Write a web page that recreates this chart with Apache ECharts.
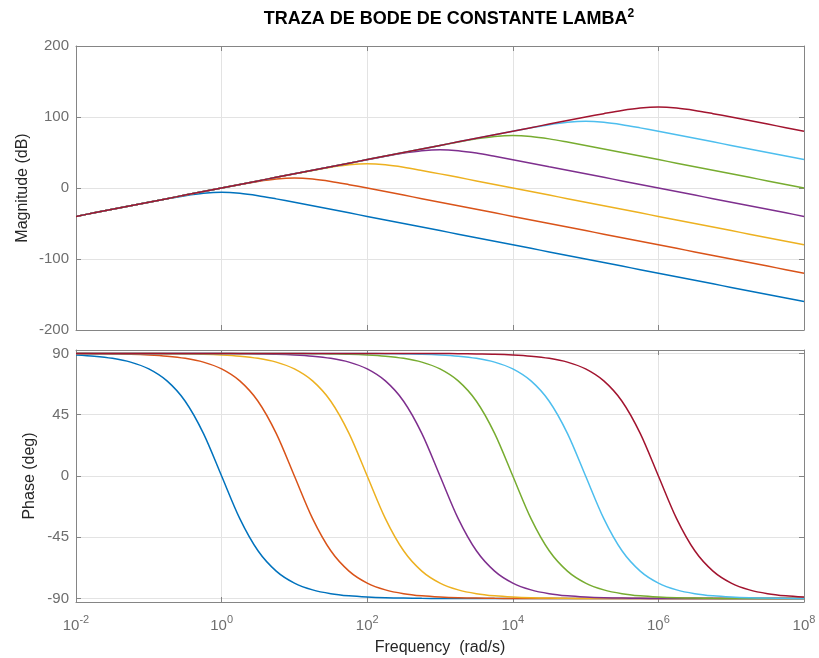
<!DOCTYPE html>
<html>
<head>
<meta charset="utf-8">
<script src="https://cdn.jsdelivr.net/npm/echarts@6/dist/echarts.min.js"></script>
<style>
  html, body { margin: 0; padding: 0; background: #fff; }
  #main { width: 819px; height: 658px; }
</style>
</head>
<body>
<div id="main"></div>
<script>
// frecuencia en decadas (log10 de rad/s)
var freqExp = [-2,-1.75,-1.5,-1.25,-1,-0.75,-0.5,-0.25,0,0.25,0.5,0.75,1,1.25,1.5,1.75,2,2.25,2.5,2.75,3,3.25,3.5,3.75,4,4.25,4.5,4.75,5,5.25,5.5,5.75,6,6.25,6.5,6.75,7,7.25,7.5,7.75,8];

// magnitud (dB) para lambda = 1, 10, ... 1e6
var magL0 = [-40,-35,-30,-25,-20.1,-15.3,-10.8,-7.4,-6.0,-7.4,-10.8,-15.3,-20.1,-25,-30,-35,-40,-45,-50,-55,-60,-65,-70,-75,-80,-85,-90,-95,-100,-105,-110,-115,-120,-125,-130,-135,-140,-145,-150,-155,-160];
var magL1 = [-40,-35,-30,-25,-20,-15,-10,-5,-0.1,4.7,9.2,12.6,14.0,12.6,9.2,4.7,-0.1,-5,-10,-15,-20,-25,-30,-35,-40,-45,-50,-55,-60,-65,-70,-75,-80,-85,-90,-95,-100,-105,-110,-115,-120];
var magL2 = [-40,-35,-30,-25,-20,-15,-10,-5,0,5,10,15,19.9,24.7,29.2,32.6,34.0,32.6,29.2,24.7,19.9,15,10,5,0,-5,-10,-15,-20,-25,-30,-35,-40,-45,-50,-55,-60,-65,-70,-75,-80];
var magL3 = [-40,-35,-30,-25,-20,-15,-10,-5,0,5,10,15,20,25,30,35,39.9,44.7,49.2,52.6,54.0,52.6,49.2,44.7,39.9,35,30,25,20,15,10,5,0,-5,-10,-15,-20,-25,-30,-35,-40];
var magL4 = [-40,-35,-30,-25,-20,-15,-10,-5,0,5,10,15,20,25,30,35,40,45,50,55,59.9,64.7,69.2,72.6,74.0,72.6,69.2,64.7,59.9,55,50,45,40,35,30,25,20,15,10,5,0];
var magL5 = [-40,-35,-30,-25,-20,-15,-10,-5,0,5,10,15,20,25,30,35,40,45,50,55,60,65,70,75,79.9,84.7,89.2,92.6,94.0,92.6,89.2,84.7,79.9,75,70,65,60,55,50,45,40];
var magL6 = [-40,-35,-30,-25,-20,-15,-10,-5,0,5,10,15,20,25,30,35,40,45,50,55,60,65,70,75,80,85,90,95,99.9,104.7,109.2,112.6,114.0,112.6,109.2,104.7,99.9,95,90,85,80];

// fase (grados)
var phL0 = [88.9,88.0,86.4,83.6,78.6,69.8,54.9,31.3,0,-31.3,-54.9,-69.8,-78.6,-83.6,-86.4,-88.0,-88.9,-89.4,-89.6,-89.8,-89.9,-89.9,-90,-90,-90,-90,-90,-90,-90,-90,-90,-90,-90,-90,-90,-90,-90,-90,-90,-90,-90];
var phL1 = [89.9,89.8,89.6,89.4,88.9,88.0,86.4,83.6,78.6,69.8,54.9,31.3,0,-31.3,-54.9,-69.8,-78.6,-83.6,-86.4,-88.0,-88.9,-89.4,-89.6,-89.8,-89.9,-89.9,-90,-90,-90,-90,-90,-90,-90,-90,-90,-90,-90,-90,-90,-90,-90];
var phL2 = [90,90,90,89.9,89.9,89.8,89.6,89.4,88.9,88.0,86.4,83.6,78.6,69.8,54.9,31.3,0,-31.3,-54.9,-69.8,-78.6,-83.6,-86.4,-88.0,-88.9,-89.4,-89.6,-89.8,-89.9,-89.9,-90,-90,-90,-90,-90,-90,-90,-90,-90,-90,-90];
var phL3 = [90,90,90,90,90,90,90,89.9,89.9,89.8,89.6,89.4,88.9,88.0,86.4,83.6,78.6,69.8,54.9,31.3,0,-31.3,-54.9,-69.8,-78.6,-83.6,-86.4,-88.0,-88.9,-89.4,-89.6,-89.8,-89.9,-89.9,-90,-90,-90,-90,-90,-90,-90];
var phL4 = [90,90,90,90,90,90,90,90,90,90,90,89.9,89.9,89.8,89.6,89.4,88.9,88.0,86.4,83.6,78.6,69.8,54.9,31.3,0,-31.3,-54.9,-69.8,-78.6,-83.6,-86.4,-88.0,-88.9,-89.4,-89.6,-89.8,-89.9,-89.9,-90,-90,-90];
var phL5 = [90,90,90,90,90,90,90,90,90,90,90,90,90,90,90,89.9,89.9,89.8,89.6,89.4,88.9,88.0,86.4,83.6,78.6,69.8,54.9,31.3,0,-31.3,-54.9,-69.8,-78.6,-83.6,-86.4,-88.0,-88.9,-89.4,-89.6,-89.8,-89.9];
var phL6 = [90,90,90,90,90,90,90,90,90,90,90,90,90,90,90,90,90,90,90,89.9,89.9,89.8,89.6,89.4,88.9,88.0,86.4,83.6,78.6,69.8,54.9,31.3,0,-31.3,-54.9,-69.8,-78.6,-83.6,-86.4,-88.0,-88.9];

var magTicks = [-200, -100, 0, 100, 200];
var phaseTicks = [-90, -45, 0, 45, 90];
var colors = ['#0072BD','#D95319','#EDB120','#7E2F8E','#77AC30','#4DBEEE','#A2142F'];

var FONT = "'Liberation Sans', Arial, sans-serif";
var BOX = '#858585';
var LABEL = '#6e6e6e';
var GRIDC = '#e3e3e3';

function pares(ys){
    var out = [];
    for (var i = 0; i < freqExp.length; i++) out.push([freqExp[i], ys[i]]);
    return out;
}

function ejeX(grid, pos, labels){
    return {
        type: 'value', gridIndex: grid, position: pos,
        min: -2, max: 8, interval: 2,
        axisLine: { show: true, onZero: false, lineStyle: { color: BOX, width: 1 } },
        axisTick: { show: true, inside: true, length: 5, lineStyle: { color: BOX } },
        splitLine: { show: pos === 'bottom', lineStyle: { color: GRIDC, width: 1 } },
        axisLabel: {
            show: labels, margin: 12, fontFamily: FONT, fontSize: 15, color: LABEL,
            formatter: function(v){ return '10{sup|' + v + '}'; },
            rich: { sup: { fontFamily: FONT, fontSize: 11, color: LABEL, padding: [0,0,12,0] } }
        }
    };
}

function ejeY(grid, pos, min, max, ticks, labels, name, gap){
    return {
        type: 'value', gridIndex: grid, position: pos,
        min: min, max: max,
        name: name, nameLocation: 'middle', nameGap: gap, nameMoveOverlap: false,
        nameTextStyle: { fontFamily: FONT, fontSize: 16, color: '#262626' },
        axisLine: { show: true, onZero: false, lineStyle: { color: BOX, width: 1 } },
        axisTick: { show: true, inside: true, length: 5, customValues: ticks, lineStyle: { color: BOX } },
        splitLine: { show: pos === 'left', lineStyle: { color: GRIDC, width: 1 } },
        axisLabel: {
            show: labels, margin: 7, fontFamily: FONT, fontSize: 15, color: LABEL,
            customValues: ticks
        }
    };
}

var magSeries = [magL0, magL1, magL2, magL3, magL4, magL5, magL6];
var phSeries = [phL0, phL1, phL2, phL3, phL4, phL5, phL6];
var series = [];
magSeries.forEach(function(ys, i){
    series.push({ type: 'line', xAxisIndex: 0, yAxisIndex: 0, data: pares(ys),
        showSymbol: false, smooth: 0.3, color: colors[i], lineStyle: { width: 1.5 }, animation: false });
});
phSeries.forEach(function(ys, i){
    series.push({ type: 'line', xAxisIndex: 2, yAxisIndex: 2, data: pares(ys),
        showSymbol: false, smooth: 0.3, color: colors[i], lineStyle: { width: 1.5 }, animation: false });
});

var myChart = echarts.init(document.getElementById('main'));
var option = {
    backgroundColor: '#fff',
    animation: false,
    title: {
        text: 'TRAZA DE BODE DE CONSTANTE LAMBA{sup|2}',
        left: 444, top: 3, textAlign: 'center',
        textStyle: {
            fontFamily: FONT, fontWeight: 'bold', fontSize: 18, color: '#000',
            rich: { sup: { fontFamily: FONT, fontWeight: 'bold', fontSize: 12, color: '#000', padding: [0,0,11,0] } }
        }
    },
    grid: [
        { left: 76, top: 46, width: 728, height: 284 },
        { left: 76, top: 350, width: 728, height: 252 }
    ],
    xAxis: [
        ejeX(0, 'bottom', false),
        ejeX(0, 'top', false),
        ejeX(1, 'bottom', true),
        ejeX(1, 'top', false)
    ],
    yAxis: [
        ejeY(0, 'left', -200, 200, magTicks, true, 'Magnitude (dB)', 45),
        ejeY(0, 'right', -200, 200, magTicks, false, '', 0),
        ejeY(1, 'left', -92.5, 92.5, phaseTicks, true, 'Phase (deg)', 38),
        ejeY(1, 'right', -92.5, 92.5, phaseTicks, false, '', 0)
    ],
    series: series
};
option.xAxis[2].name = 'Frequency  (rad/s)';
option.xAxis[2].nameLocation = 'middle';
option.xAxis[2].nameGap = 38;
option.xAxis[2].nameMoveOverlap = false;
option.xAxis[2].nameTextStyle = { fontFamily: FONT, fontSize: 16, color: '#262626' };
myChart.setOption(option);
</script>
</body>
</html>
